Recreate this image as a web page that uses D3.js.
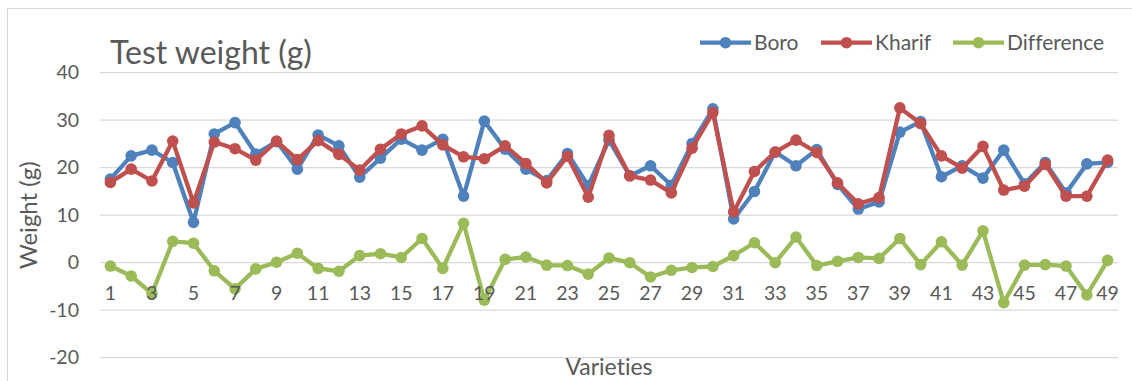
<!DOCTYPE html>
<html>
<head>
<meta charset="utf-8">
<script src="https://cdn.jsdelivr.net/npm/d3@7/dist/d3.min.js"></script>
<style>
  html, body { margin: 0; padding: 0; background: #fff; }
  svg text { font-family: Lato, "Open Sans", sans-serif; fill: #595959; font-variant-ligatures: none; }
</style>
</head>
<body>
<svg id="chart" width="1132" height="381"></svg>
<script>
// Test weight (g) of 49 varieties in the Boro and Kharif seasons
const varieties = d3.range(1, 50);
const boro = [17.6, 22.5, 23.7, 21.1, 8.5, 27.1, 29.5, 22.9, 25.5, 19.7,
              26.9, 24.6, 18.0, 22.0, 26.0, 23.7, 26.0, 14.0, 29.8, 23.9,
              19.7, 17.3, 23.0, 16.2, 25.8, 18.3, 20.4, 16.3, 25.1, 32.4,
              9.2, 15.0, 23.3, 20.4, 23.8, 16.5, 11.3, 12.8, 27.5, 29.7,
              18.1, 20.4, 17.8, 23.7, 16.6, 21.1, 14.7, 20.8, 21.1];
const kharif = [16.9, 19.7, 17.2, 25.6, 12.6, 25.4, 24.0, 21.6, 25.6, 21.7,
                25.7, 22.8, 19.5, 23.9, 27.1, 28.8, 24.8, 22.3, 21.9, 24.6,
                20.9, 16.8, 22.4, 13.8, 26.8, 18.3, 17.4, 14.7, 24.1, 31.6,
                10.7, 19.2, 23.3, 25.8, 23.2, 16.8, 12.4, 13.7, 32.6, 29.3,
                22.5, 19.9, 24.5, 15.3, 16.1, 20.7, 14.0, 14.0, 21.6];
const difference = [-0.7, -2.8, -6.5, 4.5, 4.1, -1.7, -5.5, -1.3, 0.1, 2.0,
                    -1.2, -1.8, 1.5, 1.9, 1.1, 5.1, -1.2, 8.3, -7.9, 0.7,
                    1.2, -0.5, -0.6, -2.4, 1.0, 0.0, -3.0, -1.6, -1.0, -0.8,
                    1.5, 4.2, 0.0, 5.4, -0.6, 0.3, 1.1, 0.9, 5.1, -0.4,
                    4.4, -0.5, 6.7, -8.4, -0.5, -0.4, -0.7, -6.8, 0.5];
const yTicks = [-20, -10, 0, 10, 20, 30, 40];
const xTickLabels = varieties.filter(v => v % 2 === 1);

const series = [
  { name: "Boro", values: boro, color: "#4F81BD" },
  { name: "Kharif", values: kharif, color: "#C0504D" },
  { name: "Difference", values: difference, color: "#9BBB59" }
];

const svg = d3.select("#chart");
const W = 1132, H = 381;
const plot = { left: 100, right: 1118, top: 72.7, bottom: 357.7 };

// chart frame
svg.append("rect")
  .attr("x", 7.5).attr("y", 8.5)
  .attr("width", W).attr("height", H)
  .attr("fill", "#fff").attr("stroke", "#d9d9d9").attr("stroke-width", 1);

const x = d3.scaleBand().domain(varieties).range([plot.left, plot.right]);
const cx = v => x(v) + x.bandwidth() / 2;
const y = d3.scaleLinear().domain([-20, 40]).range([plot.bottom, plot.top]);

// horizontal gridlines
svg.append("g")
  .selectAll("line")
  .data(yTicks)
  .join("line")
  .attr("x1", plot.left).attr("x2", plot.right)
  .attr("y1", d => y(d)).attr("y2", d => y(d))
  .attr("stroke", "#d9d9d9").attr("stroke-width", 1.3);

// value axis labels (plain hyphen for negatives)
const yAxis = svg.append("g")
  .attr("transform", `translate(${plot.left},0)`)
  .call(d3.axisLeft(y).tickValues(yTicks).tickFormat(d => String(d))
    .tickSize(0).tickPadding(21));
yAxis.select(".domain").remove();
yAxis.selectAll("text").style("font-size", "19.5px").style("fill", "#595959");

// series lines and markers
const line = d3.line().x((d, i) => cx(varieties[i])).y(d => y(d));
series.forEach(s => {
  const g = svg.append("g");
  g.append("path")
    .datum(s.values)
    .attr("d", line)
    .attr("fill", "none")
    .attr("stroke", s.color)
    .attr("stroke-width", 4.3)
    .attr("stroke-linejoin", "round");
  g.selectAll("circle")
    .data(s.values)
    .join("circle")
    .attr("cx", (d, i) => cx(varieties[i]))
    .attr("cy", d => y(d))
    .attr("r", 5.8)
    .attr("fill", s.color);
});

// category axis labels next to the zero line, drawn over the series
const xAxis = svg.append("g")
  .attr("transform", `translate(0,${y(0)})`)
  .call(d3.axisBottom(x).tickValues(xTickLabels).tickSize(0).tickPadding(23));
xAxis.select(".domain").remove();
xAxis.selectAll("text").style("font-size", "19.5px").style("fill", "#595959");

// titles
svg.append("text")
  .attr("x", 110).attr("y", 64)
  .style("font-size", "32px")
  .text("Test weight (g)");

svg.append("text")
  .attr("transform", `translate(37,${(plot.top + plot.bottom) / 2}) rotate(-90)`)
  .attr("text-anchor", "middle")
  .style("font-size", "24px")
  .text("Weight (g)");

svg.append("text")
  .attr("x", 609).attr("y", 375)
  .attr("text-anchor", "middle")
  .style("font-size", "23px")
  .text("Varieties");

// legend
const legendItems = [
  { s: series[0], x: 700 },
  { s: series[1], x: 821 },
  { s: series[2], x: 953 }
];
const legend = svg.append("g");
legendItems.forEach(it => {
  const g = legend.append("g").attr("transform", `translate(${it.x},42.7)`);
  g.append("line").attr("x1", 0).attr("x2", 51)
    .attr("stroke", it.s.color).attr("stroke-width", 4.3);
  g.append("circle").attr("cx", 25.5).attr("r", 5.8).attr("fill", it.s.color);
  g.append("text").attr("x", 54).attr("dy", "0.35em")
    .style("font-size", "21px").text(it.s.name);
});
</script>
</body>
</html>
